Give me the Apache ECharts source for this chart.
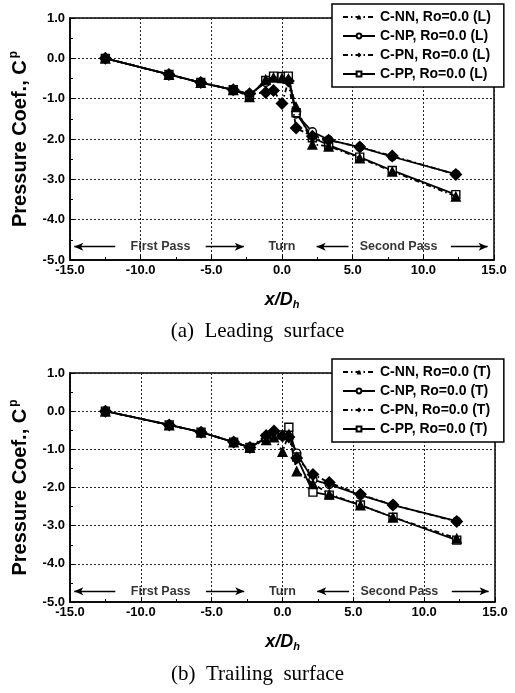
<!DOCTYPE html>
<html>
<head>
<meta charset="utf-8">
<script src="https://cdn.jsdelivr.net/npm/echarts@6/dist/echarts.min.js"></script>
<style>
html,body{margin:0;padding:0;background:#fff;}
#chart{width:515px;height:693px;}
</style>
</head>
<body>
<div id="chart"></div>
<script>
// ---- data ----
const xs = [-12.5, -8.0, -5.75, -3.45, -2.3, -1.15, -0.6, 0.0, 0.45, 1.0, 2.15, 3.3, 5.5, 7.8, 12.3];

const leadNN = [0, -0.40, -0.60, -0.78, -0.95, -0.52, -0.47, -0.48, -0.50, -1.20, -2.13, -2.18, -2.47, -2.80, -3.42];
const leadNP = [0, -0.40, -0.60, -0.78, -0.90, -0.60, -0.46, -0.48, -0.50, -1.38, -1.82, -2.02, -2.20, -2.44, -2.87];
const leadPN = [0, -0.40, -0.60, -0.78, -0.88, -0.85, -0.80, -1.12, -0.56, -1.73, -1.93, -2.03, -2.20, -2.42, -2.88];
const leadPP = [0, -0.40, -0.60, -0.78, -0.92, -0.55, -0.44, -0.45, -0.44, -1.35, -1.97, -2.15, -2.45, -2.78, -3.38];

const trailNN = [0, -0.36, -0.55, -0.81, -0.95, -0.75, -0.68, -1.06, -0.60, -1.57, -1.90, -2.17, -2.46, -2.78, -3.33];
const trailNP = [0, -0.36, -0.55, -0.81, -0.95, -0.70, -0.60, -0.65, -0.60, -1.10, -1.80, -1.92, -2.20, -2.46, -2.88];
const trailPN = [0, -0.36, -0.55, -0.81, -0.95, -0.64, -0.52, -0.65, -0.68, -1.23, -1.66, -1.87, -2.18, -2.46, -2.89];
const trailPP = [0, -0.36, -0.55, -0.81, -0.95, -0.70, -0.62, -0.62, -0.42, -1.20, -2.12, -2.20, -2.46, -2.78, -3.38];

const leadNames = ['C-NN, Ro=0.0 (L)', 'C-NP, Ro=0.0 (L)', 'C-PN, Ro=0.0 (L)', 'C-PP, Ro=0.0 (L)'];
const trailNames = ['C-NN, Ro=0.0 (T)', 'C-NP, Ro=0.0 (T)', 'C-PN, Ro=0.0 (T)', 'C-PP, Ro=0.0 (T)'];

// region annotations: [label, x]
const regionLabels = [['First Pass', -8.6], ['Turn', 0.0], ['Second Pass', 8.25]];
// arrows: [from x, to x] (arrow head at "to")
const regionArrows = [[-11.8, -14.7], [-5.4, -2.7], [4.7, 2.45], [11.95, 14.55]];
const annotY = [-4.67, -4.72];

const captions = ['(a)  Leading  surface', '(b)  Trailing  surface'];

// ---- build ----
const FONT = '"Liberation Sans", Arial, sans-serif';
const dashDot = [5, 3, 1.5, 3];
const styles = [
  {symbol: 'triangle', size: 11, fill: '#000', dash: dashDot},
  {symbol: 'circle', size: 8, fill: '#fff', dash: 'solid'},
  {symbol: 'diamond', size: 13, fill: '#000', dash: dashDot},
  {symbol: 'rect', size: 8, fill: '#fff', dash: 'solid'}
];
function pairs(ys) { return xs.map((x, i) => [x, ys[i]]); }

const series = [];
function addSet(names, sets, gi) {
  sets.forEach((ys, k) => {
    const st = styles[k];
    series.push({
      name: names[k], type: 'line', xAxisIndex: gi, yAxisIndex: gi,
      data: pairs(ys), symbol: st.symbol, symbolSize: st.size,
      z: st.fill === '#000' ? 4 : 3,
      lineStyle: {color: '#000', width: 1.8, type: st.dash},
      itemStyle: {color: st.fill, borderColor: '#000', borderWidth: st.fill === '#000' ? 0 : 1.4}
    });
  });
  const y = annotY[gi];
  series.push({
    type: 'scatter', xAxisIndex: gi, yAxisIndex: gi, silent: true,
    symbolSize: 1, itemStyle: {color: 'rgba(0,0,0,0)'},
    data: regionLabels.map(r => [r[1], y, r[0]]),
    label: {show: true, position: 'inside', formatter: p => p.data[2],
      color: '#000', fontFamily: FONT, fontWeight: 'bold', fontSize: 12.5},
    markLine: {
      silent: true, symbolSize: [6, 9], label: {show: false},
      lineStyle: {color: '#000', width: 1.3, type: 'solid'},
      data: regionArrows.map(a => [
        {coord: [a[0], y], symbol: 'none'},
        {coord: [a[1], y], symbol: 'arrow'}
      ])
    }
  });
}
addSet(leadNames, [leadNN, leadNP, leadPN, leadPP], 0);
addSet(trailNames, [trailNN, trailNP, trailPN, trailPP], 1);

function xAxis(gi) {
  return {
    gridIndex: gi, type: 'value', min: -15, max: 15, interval: 5,
    name: '{i|x/D}{s|h}', nameLocation: 'middle', nameGap: 30,
    nameTextStyle: {rich: {
      i: {fontFamily: FONT, fontWeight: 'bold', fontStyle: 'italic', fontSize: 18, color: '#000'},
      s: {fontFamily: FONT, fontWeight: 'bold', fontStyle: 'italic', fontSize: 11, color: '#000', padding: [9, 0, 0, 0]}
    }},
    axisLine: {show: true, onZero: false, lineStyle: {color: '#000', width: 1.5}},
    axisTick: {show: true, inside: true, length: 5, lineStyle: {color: '#000', width: 1}},
    minorTick: {show: true, splitNumber: 2, length: 3, lineStyle: {color: '#000', width: 1}},
    axisLabel: {color: '#000', fontFamily: FONT, fontWeight: 'bold', fontSize: 13, margin: 4,
      formatter: v => v.toFixed(1)},
    splitLine: {show: true, lineStyle: {color: '#222', width: 1, type: [2, 2]}}
  };
}
function yAxis(gi) {
  return {
    gridIndex: gi, type: 'value', min: -5, max: 1, interval: 1,
    name: '{a|Pressure Coef., C}{s|p}', nameLocation: 'middle', nameGap: 38,
    nameTextStyle: {rich: {
      a: {fontFamily: FONT, fontWeight: 'bold', fontSize: 20, color: '#000'},
      s: {fontFamily: FONT, fontWeight: 'bold', fontSize: 12, color: '#000', padding: [0, 0, 12, 2]}
    }},
    axisLine: {show: true, onZero: false, lineStyle: {color: '#000', width: 1.5}},
    axisTick: {show: true, inside: true, length: 5, lineStyle: {color: '#000', width: 1}},
    minorTick: {show: true, splitNumber: 2, length: 3, lineStyle: {color: '#000', width: 1}},
    axisLabel: {color: '#000', fontFamily: FONT, fontWeight: 'bold', fontSize: 13, margin: 5,
      formatter: v => v.toFixed(1)},
    splitLine: {show: true, lineStyle: {color: '#222', width: 1, type: [2, 2]}}
  };
}
function legend(names, top) {
  return {
    data: names, orient: 'vertical', left: 332, top: top,
    backgroundColor: '#fff', borderColor: '#000', borderWidth: 1.5, borderRadius: 0,
    padding: [6, 13, 6, 10], itemGap: 5, itemWidth: 32, itemHeight: 6,
    textStyle: {color: '#000', fontFamily: FONT, fontWeight: 'bold', fontSize: 14},
    selectedMode: false
  };
}

const option = {
  animation: false,
  backgroundColor: '#fff',
  grid: [
    {left: 68, top: 18, width: 426, height: 242, show: true, borderColor: '#000', borderWidth: 1.5, backgroundColor: 'transparent'},
    {left: 67, top: 373, width: 428, height: 229, show: true, borderColor: '#000', borderWidth: 1.5, backgroundColor: 'transparent'}
  ],
  xAxis: [xAxis(0), xAxis(1)],
  yAxis: [yAxis(0), yAxis(1)],
  legend: [legend(leadNames, 4), legend(trailNames, 359)],
  graphic: [
    {type: 'text', left: 'center', top: 321, style: {text: captions[0], font: '21px "Liberation Serif", "Times New Roman", serif', fill: '#000'}},
    {type: 'text', left: 'center', top: 664, style: {text: captions[1], font: '21px "Liberation Serif", "Times New Roman", serif', fill: '#000'}}
  ],
  series: series
};

const chart = echarts.init(document.getElementById('chart'), null, {renderer: 'canvas'});
chart.setOption(option);
</script>
</body>
</html>
